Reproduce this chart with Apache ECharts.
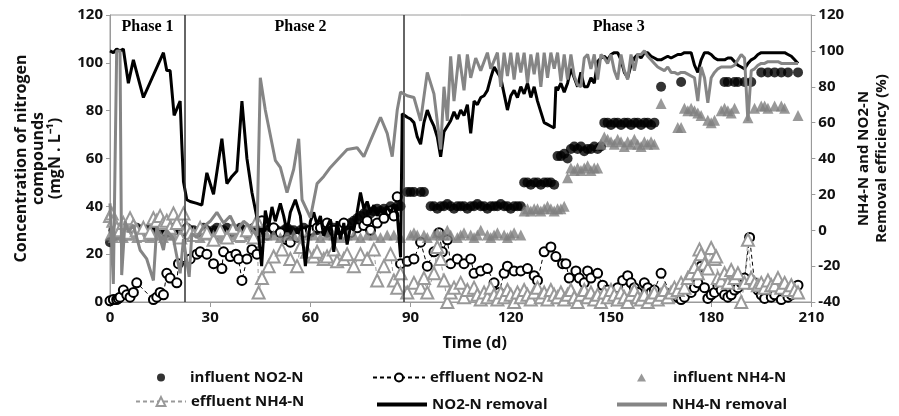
<!DOCTYPE html>
<html>
<head>
<meta charset="utf-8">
<script src="https://cdn.jsdelivr.net/npm/echarts@6/dist/echarts.min.js"></script>
<style>
html,body{margin:0;padding:0;background:#fff;}
#chart{width:899px;height:416px;}
</style>
</head>
<body>
<div id="chart"></div>
<script>
// ---------- DATA ----------
const xTicks = [0, 30, 60, 90, 120, 150, 180, 210];
const phaseBounds = [22.5, 88];
const phaseNames = ['Phase 1', 'Phase 2', 'Phase 3'];

// influent NO2-N (mgN/L) [day, value]
const influentNO2 = [[0,25],[1,30],[2,31],[3,30],[4,31],[5,30],[6,29],[7,30],[8,31],[9,30],[10,30],[11,29],[12,31],[13,30],[14,30],[15,31],[16,30],[17,29],[18,30],[19,31],[20,30],[21,30],[22,29],[23,31],[24,30],[25,30],[26,29],[27,30],[28,31],[29,30],[30,29],[31,30],[32,31],[33,30],[34,30],[35,31],[36,29],[37,30],[38,30],[39,31],[40,30],[41,29],[42,30],[43,31],[44,30],[45,30],[46,29],[47,30],[48,31],[49,30],[50,30],[51,29],[52,30],[53,31],[54,30],[55,30],[56,29],[57,30],[58,31],[59,30],[60,29],[61,30],[62,30],[63,31],[64,30],[65,29],[66,30],[67,31],[68,30],[69,30],[70,31],[71,32],[72,33],[73,34],[74,35],[75,36],[76,37],[77,38],[78,37],[79,38],[80,39],[81,38],[82,39],[83,38],[84,40],[85,39],[86,40],[87,40],
[89,46],[90,46],[91,46],[93,46],[94,46],[96,40],[97,40],[98,39],[99,40],[100,40],[101,41],[102,40],[103,39],[104,40],[105,40],[106,40],[107,39],[108,40],[109,40],[110,41],[111,40],[112,40],[113,39],[114,40],[115,40],[116,40],[117,41],[118,40],[119,40],[120,39],[121,40],[122,40],[123,40],
[124,50],[125,50],[126,49],[127,50],[128,50],[129,49],[130,50],[131,50],[132,50],[133,49],
[134,61],[135,61],[136,62],[137,60],[138,64],[139,65],[140,64],[141,65],[142,63],[143,64],[144,64],[145,65],[146,64],[147,65],
[148,75],[149,75],[150,74],[151,75],[152,75],[153,74],[154,75],[155,75],[156,74],[157,75],[158,75],[159,74],[160,75],[161,75],[162,74],[163,75],
[165,90],[171,92],[184,92],[185,92],[187,92],[188,92],[190,92],[192,92],[195,96],[197,96],[199,96],[201,96],[203,96],[206,96]];

// effluent NO2-N (mgN/L)
const effluentNO2 = [[0,0.5],[1,1],[2,1],[2.5,1.5],[3,2],[4,5],[5,3],[6,2],[7,4],[8,8],[13,1],[14,2],[15,4],[16,3],[17,12],[18,10],[20,8],[20.5,16],[24,18],[26,20],[27,21],[29,20],[31,16],[33.5,14],[34,21],[36,19],[37.7,20],[38.5,18],[39.5,9],[41,18],[42.5,22],[44,20],[45.5,34],[47,28],[49,31],[51,29],[53,26],[54,25],[56,27],[58,29],[60,30],[62,31],[63,31],[65,33],[67,30],[69,31],[70,33],[72,29],[74,31],[76,32],[77,34],[78,30],[80,33],[82,35],[84,38],[85,36],[86,44],[87,16],[89,17],[91,18],[93,25],[95,15],[97,21],[98.5,29],[99.5,21],[101,26],[102,16],[104,18],[106,16],[108,18],[109,12],[111,13],[113,14],[115,8],[116.5,4],[118,12],[119,15],[121,13],[123,13],[125,14],[127,11],[128,9],[130,21],[132,23],[133.5,19],[135.5,16],[136.5,16],[137.5,10],[139.5,13],[140.5,10],[142,8],[143,13],[144,10],[146,12],[147.5,7],[149,5],[151,3],[152,6],[153.5,9],[155,11],[156,8],[157,6],[158,4],[160,8],[161,6],[162,4],[163,5],[165,12],[168,3],[170,2],[171,1],[172,2],[174,4],[175,6],[176,8],[177,15],[178,6],[179,1.5],[180,3],[181,4],[182,7],[183,5],[184,3],[185,2],[186,3],[187,5],[188,6],[189,8],[190,10],[191.5,27],[193,8],[194,5],[195,3],[196,1.5],[198,2],[199,3],[201,1],[203,2],[204,3],[206,7]];

// influent NH4-N (mgN/L)
const influentNH4 = [[0,28],[1,27],[2,28],[3,28],[4,27],[5,28],[6,28],[8,27],[9,28],[10,28],[12,27],[13,28],[15,28],[16,27],[18,28],[19,28],[21,27],[23,28],[25,28],[27,27],[29,28],[31,28],[33,27],[35,28],[37,28],[39,27],[41,28],[43,28],[45,27],[47,28],[49,28],[51,27],[53,28],[55,28],[57,27],[59,28],[61,28],[63,27],[65,28],[67,28],[69,27],[71,28],[73,28],[75,27],[77,28],[79,28],[81,27],[83,28],[85,28],[87,27],
[90,28],[91,29],[92,28],[94,28],[95,27],[97,28],[98,29],[99,28],[100,28],[101,30],[102,28],[104,27],[105,28],[106,29],[108,28],[109,27],[110,28],[111,30],[113,28],[114,27],[115,28],[116,29],[118,28],[119,27],[120,28],[121,29],[123,28],
[124,38],[125,39],[126,38],[127,39],[128,39],[129,38],[130,39],[131,40],[132,39],[133,38],[134,39],[135,39],[136,40],
[137,52],[138,56],[139,55],[140,56],[141,55],[142,56],[143,57],[144,55],[145,56],[146,56],
[147,66],[148,69],[149,68],[150,67],[151,66],[152,68],[153,67],[154,65],[155,67],[156,66],[157,68],[158,66],[159,65],[160,67],[161,66],[162,67],[163,66],
[165,83],[170,73],[171,73],[172,81],[173,80],[174,81],[175,80],[176,79],[177,78],[179,76],[180,75],[181,76],[183,80],[184,81],[185,80],[186,79],[187,81],[191,77],[193,81],[195,82],[196,82],[197,81],[199,82],[201,82],[202,81],[206,78]];

// effluent NH4-N (mgN/L)
const effluentNH4 = [[0,36],[0.5,37],[1,34],[2,31],[3,30],[4,33],[5,29],[6,35],[7,32],[8,30],[9,28],[10,31],[12,29],[13,35],[14,34],[15,36],[16,33],[17,34],[18,31],[19,37],[20,33],[21,27],[22,37],[23,31],[24,29],[25,28],[27,31],[29,29],[31,26],[33,30],[35,27],[37,31],[39,28],[41,30],[43,27],[44,34],[44.5,4],[45.5,10],[47.5,15],[49,19],[51.5,22],[54,18],[56,15],[57,23],[59,21],[61,19],[62,21],[64,18],[65,19],[67,22],[68,17],[70,18],[71,20],[73,15],[75,20],[77,18],[79,22],[80,9],[82,15],[84,20],[85,9],[86,6],[87,12],[89,4],[91,8],[93,6],[94,10],[95,4],[97,12],[98,23],[99,18],[100,9],[101,0],[102,4],[103,6],[105,8],[106,2],[107,5],[109,6],[110,3],[111,1],[112,4],[113,2],[114,6],[115,3],[116,1],[117,4],[118,2],[119,5],[120,3],[121,0],[122,4],[123,2],[124,5],[125,3],[126,1],[127,4],[128,6],[129,2],[130,4],[131,1],[132,5],[133,3],[134,2],[135,4],[136,1],[137,3],[138,5],[139,2],[140,0],[141,3],[142,5],[143,2],[144,4],[145,1],[146,3],[147,0],[148,4],[149,2],[150,5],[151,3],[152,1],[153,4],[154,2],[155,0],[156,3],[157,5],[158,2],[159,1],[160,3],[161,0],[162,2],[163,4],[164,1],[165,3],[166,5],[167,2],[168,4],[169,6],[170,5],[171,8],[172,6],[173,10],[174,12],[175,14.6],[176,12],[176.5,22],[177,20],[178,16],[179,14],[180,22.6],[181,18],[181.5,19],[182,10],[183,9],[184,12],[185,8],[186,13.4],[187,10],[188,12],[189,0],[190,8],[191,26],[192,10],[193,8],[194,7],[195,8],[196,6],[197,9],[198,7],[199,7],[200,10],[201,6],[202,8],[203,5],[204,7],[205,5],[206,4]];

// NO2-N removal efficiency (%)
const removalNO2 = [[0,100],[1,99],[2,101],[3,100],[4,101],[4.5,100],[5.5,82],[7,95],[10,74],[16,99],[17,89],[18,89],[19.2,64],[21,72],[21.5,48],[22,27],[23,17],[24,16],[26,15],[27.5,14],[29,32],[31,20],[33.5,51],[35,26],[36.5,30],[38,33],[39.5,72],[41,40],[42.5,21],[44,7],[45.4,-20],[46.5,11],[47.5,2],[48.5,13],[49.5,5],[51,15],[52,8],[53,-1],[54,10],[55.5,17],[57,8],[58.5,-20],[60,5],[61,10],[62,3],[63,8],[64,-3],[65,2],[66,6],[67,-12],[68,5],[69,-5],[70,4],[71,-8],[72,2],[73,0],[74,10],[75,21],[76,12],[77,16],[78,10],[79,14],[80,8],[81,12],[82,9],[83,13],[84,10],[85,14],[86,9],[87,-15],[87.5,65],[88,64],[89,63],[90,62],[91,60],[92,52],[93,48],[94,60],[95,67],[96,62],[97,58],[98,52],[99,41],[100,55],[101,58],[102,61],[103,66],[104,62],[105,67],[106,64],[107,70],[108,54],[109,72],[110,70],[111,74],[112,75],[113,78],[114,85],[115,91],[116,88],[117,85],[118,76],[119,67],[120,75],[121,78],[122,74],[123,80],[124,76],[125,82],[126,74],[127,80],[128,72],[129,66],[130,60],[131,59],[132,58],[133,57],[133.5,80],[134,78],[135,82],[136,77],[137,82],[138,90],[139,85],[140,80],[141,88],[142,80],[143,80],[144,85],[145,82],[146,94],[147,96],[148,97],[149,95],[150,98],[151,99],[152,99],[153,95],[154,88],[155,85],[156,92],[157,96],[158,98],[159,96],[160,99],[161,99],[162,97],[163,96],[164,95],[165,95],[166,96],[167,97],[168,96],[169,97],[170,98],[171,98],[172,99],[173,99],[174,99],[175,92],[176,88],[177,95],[178,99],[179,99],[180,98],[181,96],[182,95],[183,95],[184,95],[185,96],[186,96],[187,94],[188,92],[189,91],[190,90],[191,93],[192,95],[193,96],[194,98],[195,99],[196,99],[197,99],[198,99],[199,99],[200,99],[201,99],[202,99],[203,98],[204,97],[205,95],[206,93]];

// NH4-N removal efficiency (%)
const removalNH4 = [[0,15],[1,-30],[2,100],[3,100],[3.5,-25],[4.5,5],[5.5,-1],[7,3],[9,-11],[11,-16],[13,-28],[14,2],[16,-11],[17,0],[19,-5],[21,-24],[22,-5],[23.7,-26],[24.5,-2],[26,-4],[28,2],[30,5],[32,10],[34,4],[36,8],[38,0],[40,5],[42,2],[44,-3],[45,85],[46.5,67],[49.5,39],[51,35],[53,21],[55,34],[56.5,51],[57.5,17],[60,7],[62,26],[64,30],[66,35],[68,39],[71,45],[74,46],[76,41],[78,50],[81,63],[83,54],[84.5,41],[86,67],[87,77],[89,75],[91,74],[93,61],[95,88],[97,76],[99,45],[100,80],[101,61],[102,97],[103,72],[104.5,98],[106,78],[107,98],[108,85],[109.5,96],[111,89],[113,99],[114,90],[116,99],[117,80],[118,99],[119,86],[120,99],[121,84],[122,99],[123,88],[124,99],[125,82],[126,98],[127,87],[128,99],[129,80],[130,99],[131,85],[132,99],[133,90],[134,99],[135,83],[136,98],[137,84],[138,98],[139,86],[140,81],[141,80],[142,96],[143,98],[144,90],[145,98],[146,84],[147,98],[148,96],[149,93],[150,98],[151,89],[152,84],[153,98],[154,89],[155,84],[156,98],[157,89],[158,98],[159,98],[160,100],[161,97],[162,95],[163,93],[164,91],[165,90],[166,89],[167,91],[168,88],[169,88],[170,87],[171,88],[172,88],[173,87],[174,86],[175,85],[176,72],[177,91],[178,85],[179,71],[180,85],[181,88],[182,90],[183,91],[184,91],[185,91],[186,91],[187,92],[188,95],[189,98],[190,96],[191,61],[192,89],[193,90],[194,92],[195,93],[196,93],[197,94],[198,94],[199,94],[200,94],[201,93],[202,93],[203,93],[204,93],[205,93],[206,93]];

const seriesNames = ['influent NO2-N','effluent NO2-N','influent NH4-N','effluent NH4-N','NO2-N removal','NH4-N removal'];

// ---------- CHART ----------
const FONT = 'Open Sans';
const GRAY = '#808080';
const AXIS = '#9a9a9a';
const chart = echarts.init(document.getElementById('chart'), null, {renderer: 'canvas'});

const tickLabel = {color: '#111', fontFamily: FONT, fontWeight: 'bold', fontSize: 15};
const legendText = {color: '#111', fontFamily: FONT, fontWeight: 'bold', fontSize: 15};

function legendAt(name, left, top, w, h, pad, icon) {
  const l = {
    data: [name], left: left, top: top, itemWidth: w, itemHeight: h,
    itemGap: 0, padding: 0, selectedMode: false,
    textStyle: Object.assign({}, legendText, pad ? {padding: [0, 0, 0, pad]} : {})
  };
  if (icon) l.icon = icon;
  return l;
}

const option = {
  animation: false,
  backgroundColor: '#fff',
  grid: {left: 110, right: 81, top: 15, bottom: 114, show: true, borderColor: AXIS, borderWidth: 1, backgroundColor: 'transparent'},
  legend: [
    legendAt(seriesNames[0], 157, 370, 8, 8, 20),
    legendAt(seriesNames[1], 372, 370, 52, 10, 0),
    legendAt(seriesNames[2], 637, 370, 9, 8, 22),
    legendAt(seriesNames[3], 135, 394, 50, 11, 0),
    legendAt(seriesNames[4], 377, 397, 50, 4, 0, 'rect'),
    legendAt(seriesNames[5], 617, 397, 50, 4, 0, 'rect')
  ],
  xAxis: {
    type: 'value', min: xTicks[0], max: xTicks[xTicks.length - 1], interval: 30,
    name: 'Time (d)', nameLocation: 'middle', nameGap: 33,
    nameTextStyle: {color: '#111', fontFamily: FONT, fontWeight: 'bold', fontSize: 16, padding: [0, 0, 0, 28]},
    axisLine: {lineStyle: {color: AXIS}}, axisTick: {show: true, length: 5, lineStyle: {color: AXIS}},
    axisLabel: Object.assign({margin: 8}, tickLabel),
    splitLine: {show: false}
  },
  yAxis: [
    {
      type: 'value', min: 0, max: 120, interval: 20, position: 'left',
      name: 'Concentration of nitrogen\ncompounds\n(mgN . L\u207B\u00B9)', nameLocation: 'middle', nameRotate: 90, nameGap: 46,
      nameTextStyle: {color: '#111', fontFamily: FONT, fontWeight: 'bold', fontSize: 16, lineHeight: 17, align: 'center'},
      axisLine: {show: true, lineStyle: {color: AXIS}}, axisTick: {show: true, length: 4, lineStyle: {color: AXIS}},
      axisLabel: Object.assign({margin: 7}, tickLabel),
      splitLine: {show: false}
    },
    {
      type: 'value', min: -40, max: 120, interval: 20, position: 'right',
      name: 'NH4-N and NO2-N\nRemoval efficiency (%)', nameLocation: 'middle', nameRotate: 90, nameGap: 38,
      nameTextStyle: {color: '#111', fontFamily: FONT, fontWeight: 'bold', fontSize: 15, lineHeight: 18, align: 'center'},
      axisLine: {show: true, lineStyle: {color: AXIS}}, axisTick: {show: true, length: 4, lineStyle: {color: AXIS}},
      axisLabel: Object.assign({margin: 7}, tickLabel),
      splitLine: {show: false}
    }
  ],
  series: [
    {
      name: seriesNames[0], type: 'scatter', yAxisIndex: 0, data: influentNO2,
      symbol: 'circle', symbolSize: 10, itemStyle: {color: '#000'}, z: 2,
      markLine: {
        silent: true, symbol: 'none', label: {show: false},
        lineStyle: {color: '#333', width: 1.5, type: 'solid'},
        data: phaseBounds.map(d => ({xAxis: d}))
      },
      markArea: {
        silent: true, itemStyle: {color: 'transparent'},
        label: {position: 'insideTop', distance: 4, color: '#000', fontFamily: 'Liberation Serif', fontWeight: 'bold', fontSize: 16},
        data: [
          [{name: phaseNames[0], xAxis: 0}, {xAxis: phaseBounds[0]}],
          [{name: phaseNames[1], xAxis: phaseBounds[0], label: {offset: [6, 0]}}, {xAxis: phaseBounds[1]}],
          [{name: phaseNames[2], xAxis: phaseBounds[1], label: {offset: [11, 0]}}, {xAxis: 210}]
        ]
      }
    },
    {
      name: seriesNames[1], type: 'line', yAxisIndex: 0, data: effluentNO2,
      symbol: 'emptyCircle', symbolSize: 9, showAllSymbol: true,
      lineStyle: {color: '#000', width: 1, type: [4, 3]},
      itemStyle: {color: '#000', borderWidth: 1.5}, z: 3
    },
    {
      name: seriesNames[2], type: 'scatter', yAxisIndex: 0, data: influentNH4,
      symbol: 'triangle', symbolSize: 11, itemStyle: {color: GRAY}, z: 3
    },
    {
      name: seriesNames[3], type: 'line', yAxisIndex: 0, data: effluentNH4,
      symbol: 'emptyTriangle', symbolSize: 12, showAllSymbol: true,
      lineStyle: {color: '#9a9a9a', width: 1, type: [4, 3]},
      itemStyle: {color: '#999', borderWidth: 1.5}, z: 3
    },
    {
      name: seriesNames[4], type: 'line', yAxisIndex: 1, data: removalNO2,
      symbol: 'none', lineStyle: {color: '#000', width: 3}, itemStyle: {color: '#000'}, z: 4
    },
    {
      name: seriesNames[5], type: 'line', yAxisIndex: 1, data: removalNH4,
      symbol: 'none', lineStyle: {color: '#858585', width: 3}, itemStyle: {color: '#858585'}, z: 5
    }
  ]
};
chart.setOption(option);
</script>
</body>
</html>
